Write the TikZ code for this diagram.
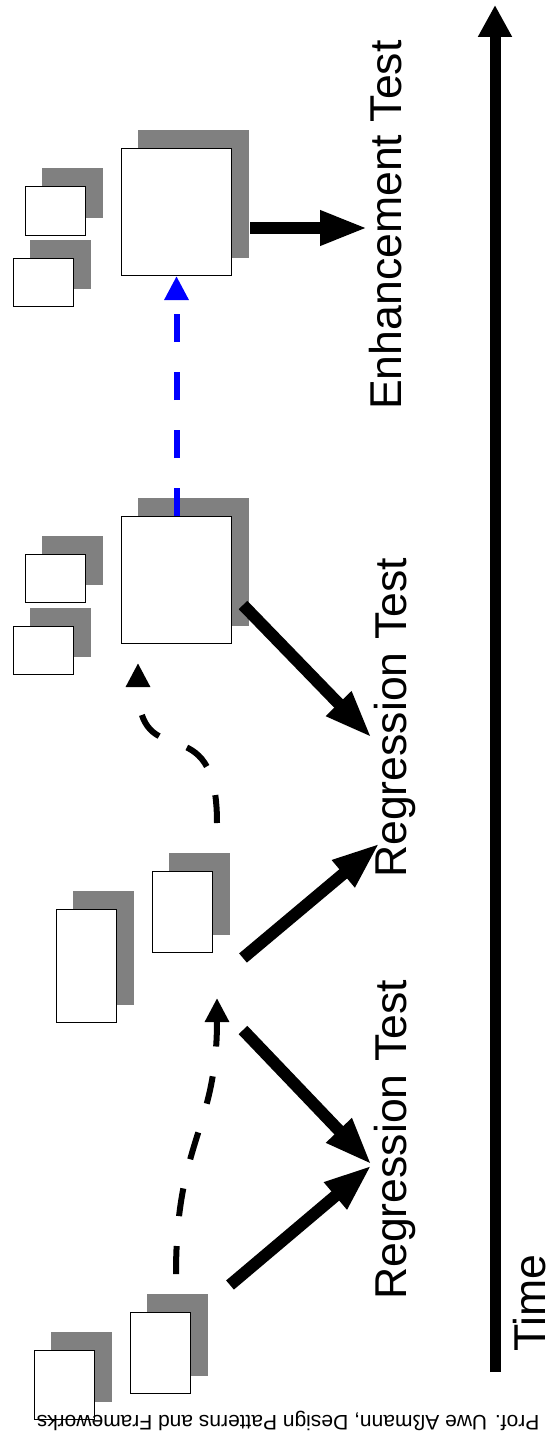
\documentclass[tikz,border=0pt]{standalone}
\usepackage{fontspec}
\setmainfont{Liberation Sans}
\usetikzlibrary{arrows.meta}
\definecolor{shadowgray}{RGB}{128,128,128}

\begin{document}
\begin{tikzpicture}[x=1pt,y=-1pt,
    doc/.style={draw, fill=white, line width=1pt, inner sep=0pt, anchor=north west},
    flow/.style={line width=12pt, -{Triangle[length=48pt,width=32pt]}},
    rework/.style={line width=6pt, dash pattern=on 28pt off 30pt, -{Triangle[length=24pt,width=23pt]}},
    phase/.style={rotate=90, anchor=base west, inner sep=0pt, font=\fontsize{44.6}{50}\selectfont}]
    \useasboundingbox (0,0) rectangle (555,1439);

    % documents with their shadows
    \foreach \n/\x/\y/\w/\h in {enh/121/148/110/127, enhA/25/186/60/49, enhB/13/258/60/48,
        reg/121/516/110/127, regA/25/554/60/48, regB/13/626/60/48,
        midA/56/909/60/113, midB/152/871/60/81, startA/34/1350/60/69, startB/130/1312/60/81}{
        \fill[shadowgray] (\x+17,\y-18) rectangle ++(\w+1,\h+1);
        \node[doc, minimum width=\w pt, minimum height=\h pt] (\n) at (\x,\y) {};
    }

    % time axis
    \coordinate (time0) at (495,1372);
    \coordinate (time1) at (495,5);
    \draw[line width=11pt, -{Triangle[length=32pt,width=32pt]}] (time0) -- (time1);
    \node[phase] (time) at (545,1352) {Time};

    % test phases
    \node[phase] (test1) at (406,1300) {Regression Test};
    \node[phase] (test2) at (406,878) {Regression Test};
    \node[phase] (test3) at (401,410) {Enhancement Test};

    \coordinate (start out) at (230,1285);
    \coordinate (mid down) at (243,1030);
    \coordinate (mid up) at (243,958);
    \coordinate (reg out) at (243,605);
    \coordinate (enh out) at (250,228);
    \coordinate (tip1) at (372,1165);
    \coordinate (tip2a) at (380,843);
    \coordinate (tip2b) at (372,738);
    \coordinate (tip3) at (368,228);

    \draw[flow] (start out) -- (tip1);
    \draw[flow] (mid down) -- (tip1);
    \draw[flow] (mid up) -- (tip2a);
    \draw[flow] (reg out) -- (tip2b);
    \draw[flow] (enh out) -- (tip3);

    % evolution steps
    \coordinate (start up) at (176,1274);
    \coordinate (mid in) at (217,998);
    \coordinate (mid top) at (217,823);
    \coordinate (reg in) at (138,663);
    \draw[rework] (start up) .. controls (176,1140) and (217,1130) .. (mid in);
    \draw[rework] (mid top) .. controls (217,700) and (138,780) .. (reg in);
    \draw[rework, blue] (reg.north) -- (enh.south);

    \node[rotate=180, inner sep=0pt, font=\fontsize{21}{24}\selectfont] (credit) at (288,1421)
        {Prof. Uwe Aßmann, Design Patterns and Frameworks};
\end{tikzpicture}
\end{document}
